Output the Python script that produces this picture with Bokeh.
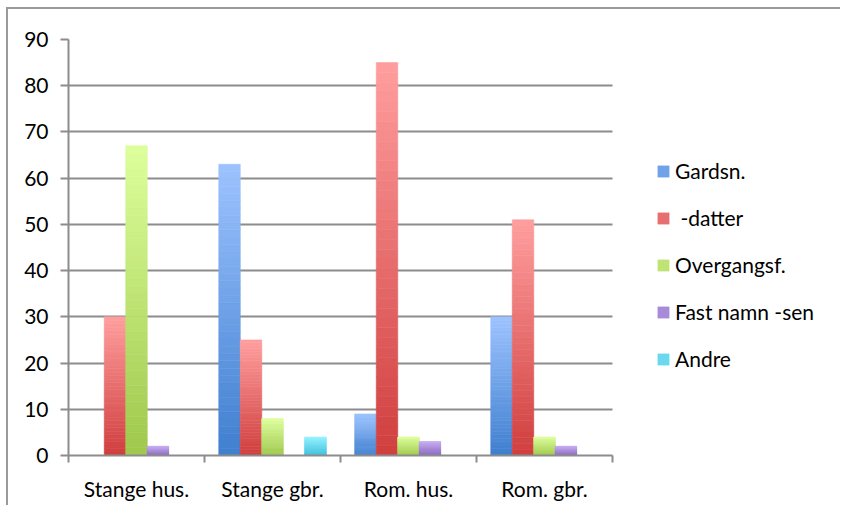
from bokeh.plotting import figure
from bokeh.models import ColumnDataSource, Range1d, FixedTicker, Legend, LegendItem
from bokeh.embed import file_html
from bokeh.resources import INLINE

categories = ["Stange hus.", "Stange gbr.", "Rom. hus.", "Rom. gbr."]
series = ["Gardsn.", " -datter", "Overgangsf.", "Fast namn -sen", "Andre"]
gardsn = [0, 63, 9, 30]
datter = [30, 25, 85, 51]
overgangsf = [67, 8, 4, 4]
fast_namn = [2, 0, 3, 2]
andre = [0, 4, 0, 0]
y_ticks = [0, 10, 20, 30, 40, 50, 60, 70, 80, 90]

values = [gardsn, datter, overgangsf, fast_namn, andre]
# (bottom colour, top colour) of each series' gradient
col_bottom = ["#3f7fcf", "#d03e3e", "#9fc84c", "#8a68bf", "#3ebfdc"]
col_top = ["#9dc3ff", "#ff9e9e", "#ddff9c", "#c5acf0", "#94f2ff"]

FONT = "Lato"
GREY = "#8c8c8c"
N = 40


def mix(c1, c2, t):
    a = [int(c1[i:i + 2], 16) for i in (1, 3, 5)]
    b = [int(c2[i:i + 2], 16) for i in (1, 3, 5)]
    return "#%02x%02x%02x" % tuple(round(a[k] + (b[k] - a[k]) * t) for k in range(3))


ncat = len(categories)
# plot area: categories take 544 px, the legend area to the right another 230 px
x_end = ncat * 774 / 544

p = figure(width=834, height=498, output_backend="svg", toolbar_location=None,
           x_range=Range1d(0, x_end), y_range=Range1d(0, 90),
           min_border_left=60, min_border_top=30, min_border_right=0,
           min_border_bottom=52)
p.styles = {"border-left": "2px solid #9a9a9a", "border-top": "2px solid #9a9a9a",
            "margin-left": "6px", "margin-top": "7px"}
p.outline_line_color = None
p.background_fill_color = "white"
p.border_fill_color = "white"

bar_w = 0.158
renderers = []
for j, (name, vals) in enumerate(zip(series, values)):
    xs, bots, tops, cols = [], [], [], []
    for i, v in enumerate(vals):
        x = i + 0.5 + (j - 2) * bar_w
        for k in range(N):
            xs.append(x)
            bots.append(v * k / N)
            tops.append(v * (k + 1) / N)
            cols.append(mix(col_bottom[j], col_top[j], (k + 0.5) / N))
    src = ColumnDataSource(dict(x=xs, bottom=bots, top=tops, color=cols))
    r = p.vbar(x="x", top="top", bottom="bottom", width=bar_w, source=src,
               fill_color="color", line_color="color", line_width=0.6)
    renderers.append(r)

# axes
p.xaxis.bounds = (0, ncat)
p.xaxis.ticker = FixedTicker(ticks=[i + 0.5 for i in range(ncat)],
                             minor_ticks=list(range(ncat + 1)))
p.xaxis.major_label_overrides = {i + 0.5: c for i, c in enumerate(categories)}
p.xaxis.major_tick_out = 0
p.xaxis.major_tick_in = 0
p.xaxis.minor_tick_out = 7
p.xaxis.minor_tick_in = 0
p.xaxis.minor_tick_line_color = GREY
p.xaxis.minor_tick_line_width = 2
p.xaxis.axis_line_color = GREY
p.xaxis.axis_line_width = 2
p.xaxis.major_label_text_font = FONT
p.xaxis.major_label_text_font_size = "21px"
p.xaxis.major_label_text_color = "black"
p.xaxis.major_label_standoff = 13

p.yaxis.ticker = FixedTicker(ticks=y_ticks)
p.yaxis.major_tick_out = 8
p.yaxis.major_tick_in = 0
p.yaxis.major_tick_line_color = GREY
p.yaxis.major_tick_line_width = 2
p.yaxis.minor_tick_line_color = None
p.yaxis.axis_line_color = GREY
p.yaxis.axis_line_width = 2
p.yaxis.major_label_text_font = FONT
p.yaxis.major_label_text_font_size = "21px"
p.yaxis.major_label_text_color = "black"
p.yaxis.major_label_standoff = 12

p.xgrid.grid_line_color = None
p.ygrid.ticker = FixedTicker(ticks=y_ticks)
p.ygrid.cross_bounds = (0, ncat)
p.ygrid.grid_line_color = GREY
p.ygrid.grid_line_width = 2

legend = Legend(items=[LegendItem(label=s, renderers=[r], index=N // 2)
                       for s, r in zip(series, renderers)],
                location=(588, 84), orientation="vertical")
legend.border_line_color = None
legend.background_fill_alpha = 0
legend.padding = 0
legend.margin = 0
legend.glyph_width = 14
legend.glyph_height = 14
legend.label_standoff = 5
legend.label_height = 25
legend.spacing = 22
legend.label_text_font = FONT
legend.label_text_font_size = "21px"
legend.label_text_color = "black"
p.add_layout(legend, "center")

open("out.html", "w").write(file_html(p, INLINE))
